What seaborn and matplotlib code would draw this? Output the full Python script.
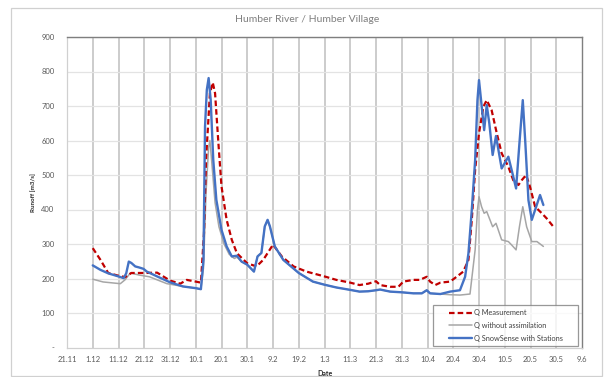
import matplotlib
matplotlib.use("Agg")
import matplotlib.pyplot as plt
import seaborn as sns
from matplotlib.patches import Rectangle
from matplotlib.lines import Line2D
from matplotlib.legend_handler import HandlerLine2D

# ---- data (day offset from 21.11) ----
meas_days = [10, 13, 16, 20, 22.6, 25, 30, 35, 40, 44, 46.5, 50, 52, 53.2, 54, 55.5, 56.6, 57.5,
             58.8, 60, 62, 64, 66, 70, 73.6, 76.2, 80, 83.4, 88, 93, 100, 104.6, 110, 113.6, 117,
             120, 121.6, 125.5, 128.7, 130.6, 134.5, 137, 139.7, 141, 143, 145, 148.8, 151.3,
             153.9, 155.9, 157.2, 158.5, 160, 161.7, 163, 164.9, 166.9, 168.8, 171.4, 173.3,
             175.3, 176.6, 178.3, 179.8, 181.8, 184.4, 186.3, 188.9]
meas_vals = [288, 254, 216, 208, 204, 216, 216, 217, 194, 185, 196, 191, 188, 331, 544, 737, 768, 737,
             592, 467, 370, 312, 273, 244, 235, 254, 298, 264, 235, 220, 206, 196, 188, 181, 185,
             192, 181, 176, 176, 191, 196, 196, 205, 191, 181, 188, 191, 205,
             220, 254, 370, 515, 621, 698, 717, 688, 621, 563, 524, 485,
             471, 485, 500, 466, 408, 389, 374, 350]

noassim_days = [10, 14, 18, 20.7, 22.5, 24.6, 28, 32, 38.8, 45, 50, 52, 53, 54, 55, 55.5, 56.3, 57.5,
                59, 61, 63, 65, 66, 67.8, 70, 72.6, 74, 75.5, 76.8, 77.9, 78.8, 80.7, 84, 90, 95.5,
                100, 104.6, 110, 113.6, 117, 120, 121.6, 125.5, 130, 134.5, 137.8, 139.7, 141, 145,
                148.8, 152.6, 156.5, 158.5, 159.4, 160, 161, 162, 163, 165.3, 166.6, 168.8, 171.4,
                172.7, 174.4, 175.7, 177, 178.5, 180.5, 182.5, 185]
noassim_vals = [198, 190, 187, 185, 196, 216, 210, 205, 185, 177, 172, 169, 230, 450, 580, 600, 530, 420,
                350, 300, 270, 258, 262, 249, 240, 220, 264, 274, 351, 370, 351, 293, 254, 216, 191,
                182, 174, 167, 162, 163, 166, 168, 162, 160, 157, 157, 166, 157, 155,
                153, 152, 155, 283, 399, 437, 408, 389, 394, 350, 360, 312, 307,
                297, 283, 350, 408, 350, 307, 307, 293]

snow_days = [10, 13, 16, 20, 22, 23, 24, 25, 26.5, 28, 29.7, 31, 35, 40, 45, 50, 52, 53, 53.6, 54.3,
             55, 55.8, 56.8, 58, 60, 62, 64, 66, 67.8, 70, 72.6, 74, 75.5, 76.8, 77.9, 78.8, 80.7,
             84, 90, 95.5, 100, 104.6, 110, 113.6, 117, 120, 121.6, 125.5, 130, 134.5, 137.8, 139.7,
             141, 145, 148.8, 152.6, 154.6, 155.9, 157.2, 158.5, 159.4, 160, 160.8, 162, 163, 164,
             165.3, 166.6, 168.8, 171.4, 172.7, 174.4, 175.7, 177, 178, 179.2, 180.5, 181.8, 183.7, 185]
snow_vals = [238, 225, 215, 206, 201, 215, 249, 245, 235, 232, 228, 220, 206, 189, 177, 172, 169, 254, 640, 747,
             781, 718, 544, 428, 341, 293, 264, 266, 249, 240, 220, 264, 274, 351, 370, 351, 293,
             254, 216, 191, 182, 174, 167, 162, 163, 166, 168, 162, 160, 157, 157, 166,
             157, 155, 162, 166, 205, 273, 399, 543, 717, 775, 717, 630, 703, 650,
             558, 613, 519, 553, 514, 461, 592, 717, 592, 427, 370, 399, 442, 413]

tick_days = list(range(0, 201, 10))
tick_labels = ["21.11", "1.12", "11.12", "21.12", "31.12", "10.1", "20.1", "30.1", "9.2", "19.2",
               "1.3", "11.3", "21.3", "31.3", "10.4", "20.4", "30.4", "10.5", "20.5", "30.5", "9.6"]
y_ticks = [0, 100, 200, 300, 400, 500, 600, 700, 800, 900]
y_tick_labels = ["-", "100", "200", "300", "400", "500", "600", "700", "800", "900"]

series_names = ["Q Measurement", "Q without assimilation", "Q SnowSense with Stations"]

sns.set_style("white")
plt.rcParams["font.family"] = ["Lato", "DejaVu Sans"]

W, H = 605, 377
fig = plt.figure(figsize=(W / 100, H / 100), dpi=100)
L, R, T, B = 67, 582, 37, 347.5
ax = fig.add_axes([L / W, 1 - B / H, (R - L) / W, (B - T) / H])

red = "#c00000"
grey = "#a6a6a6"
blue = "#4472c4"

sns.lineplot(x=meas_days, y=meas_vals, ax=ax, color=red, linewidth=1.6,
             linestyle=(0, (2.5, 1.4)), label=series_names[0], zorder=3)
sns.lineplot(x=noassim_days, y=noassim_vals, ax=ax, color=grey, linewidth=1.1,
             label=series_names[1], zorder=2)
sns.lineplot(x=snow_days, y=snow_vals, ax=ax, color=blue, linewidth=1.7,
             label=series_names[2], zorder=4)

ax.set_xlim(0, 200)
ax.set_ylim(0, 900)
ax.set_xticks(tick_days)
ax.set_xticklabels(tick_labels)
ax.set_yticks(y_ticks)
ax.set_yticklabels(y_tick_labels)

ax.grid(False)
for d in tick_days[1:-1]:
    ax.axvline(d, color="#bfbfbf", linewidth=1.1, zorder=0)
for v in y_ticks[1:]:
    ax.axhline(v, color="#e3e3e3", linewidth=0.9, zorder=0)

for s in ["top", "right"]:
    ax.spines[s].set_color("#7f7f7f")
    ax.spines[s].set_linewidth(1.0)
for s in ["left", "bottom"]:
    ax.spines[s].set_color("#d0d0d0")
    ax.spines[s].set_linewidth(0.9)

ax.tick_params(axis="x", length=3, color="#bfbfbf", pad=3, labelsize=5.5, labelcolor="#595959")
ax.tick_params(axis="y", length=0, pad=9, labelsize=5.5, labelcolor="#595959")

ax.set_xlabel("Date", fontsize=5, fontweight="bold", color="#262626", va="center")
ax.xaxis.set_label_coords(0.5, -(373 - B) / (B - T))
ax.set_ylabel("Runoff [m3/s]", fontsize=4.5, fontweight="bold", color="#262626", va="center")
ax.yaxis.set_label_coords(-(L - 33) / (R - L), 0.5)

handles, labels = ax.get_legend_handles_labels()
leg = ax.legend(handles, [lb + "      " for lb in labels],
                loc="lower right", bbox_to_anchor=(0.993, 0.005), borderaxespad=0,
                fontsize=5.3, frameon=True, fancybox=False, handlelength=4.8,
                handletextpad=0.2, labelspacing=0.75, borderpad=0.6,
                handler_map={Line2D: HandlerLine2D(xpad=1.7)})
leg.get_frame().set_edgecolor("#7f7f7f")
leg.get_frame().set_linewidth(0.9)
for t in leg.get_texts():
    t.set_color("#404040")

fig.text(307 / W, 1 - 20 / H, "Humber River / Humber Village", ha="center", va="center",
         fontsize=7.5, color="#7f7f7f")

fig.patches.append(Rectangle((11 / W, 1 - 376 / H), (602 - 11) / W, (376 - 8) / H,
                             transform=fig.transFigure, fill=False, edgecolor="#d0d0d0",
                             linewidth=0.9))

fig.savefig("out.png", dpi=100)
